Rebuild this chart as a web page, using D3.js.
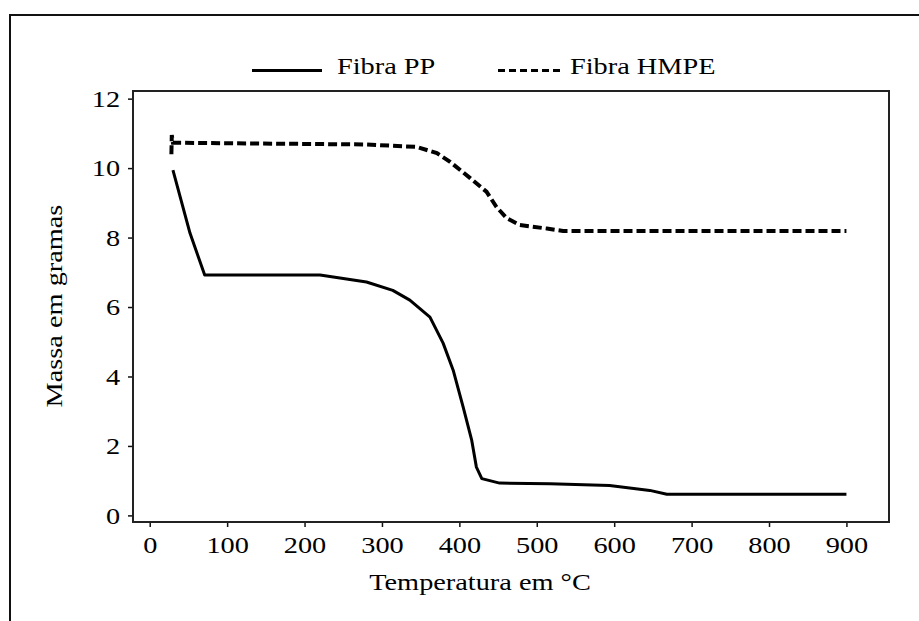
<!DOCTYPE html>
<html>
<head>
<meta charset="utf-8">
<script src="https://cdn.jsdelivr.net/npm/d3@7"></script>
<style>
body { margin: 0; background: #fff; }
</style>
</head>
<body>
<svg id="chart" width="919" height="621"></svg>
<script>
// values
var seriesNames = ["Fibra PP", "Fibra HMPE"];
var ppTemp = [30, 52, 71, 220, 280, 314, 336, 362, 379, 392, 405, 416, 422, 429, 452, 517, 594, 646, 668, 900];
var ppMass = [9.94, 8.13, 6.92, 6.92, 6.72, 6.48, 6.20, 5.71, 4.96, 4.18, 3.11, 2.16, 1.39, 1.06, 0.93, 0.91, 0.86, 0.72, 0.61, 0.61];
var hmpeTemp = [28, 28.5, 30, 280, 345, 371, 388, 414, 435, 448, 461, 478, 513, 534, 900];
var hmpeMass = [10.40, 10.95, 10.73, 10.68, 10.61, 10.43, 10.18, 9.71, 9.32, 8.88, 8.56, 8.36, 8.26, 8.19, 8.19];
var xTicks = [0, 100, 200, 300, 400, 500, 600, 700, 800, 900];
var yTicks = [0, 2, 4, 6, 8, 10, 12];
var xTitle = "Temperatura em °C";
var yTitle = "Massa em gramas";

var fontFamily = "'Liberation Serif', Tinos, 'Times New Roman', 'Nimbus Roman', FreeSerif, 'DejaVu Serif', 'Noto Serif', serif";
var svg = d3.select("#chart");
var box = {left: 133, top: 91, right: 889, bottom: 522};
var stretch = "scale(1.18,1)";

// outer frame of the figure
svg.append("rect")
    .attr("x", 10).attr("y", 15)
    .attr("width", 940).attr("height", 640)
    .attr("fill", "none").attr("stroke", "#111").attr("stroke-width", 2);

var x = d3.scaleLinear().domain([-21.6, 955]).range([box.left, box.right]);
var y = d3.scaleLinear().domain([-0.19, 12.22]).range([box.bottom, box.top]);

var xAxis = svg.append("g")
    .attr("transform", "translate(0," + box.bottom + ")")
    .call(d3.axisBottom(x).tickValues(xTicks).tickSize(5).tickSizeOuter(0).tickPadding(9));
xAxis.select(".domain").remove();
xAxis.selectAll("text")
    .attr("transform", stretch);

var yAxis = svg.append("g")
    .attr("transform", "translate(" + box.left + ",0)")
    .call(d3.axisLeft(y).tickValues(yTicks).tickSize(5).tickSizeOuter(0));
yAxis.select(".domain").remove();
yAxis.selectAll("text")
    .attr("x", -11)
    .attr("transform", stretch);
svg.selectAll(".tick line").attr("stroke", "#111").attr("stroke-width", 1.5);

// plot frame
svg.append("rect")
    .attr("x", box.left).attr("y", box.top)
    .attr("width", box.right - box.left).attr("height", box.bottom - box.top)
    .attr("fill", "none").attr("stroke", "#222").attr("stroke-width", 2);

var line = d3.line()
    .x(function(d) { return x(d[0]); })
    .y(function(d) { return y(d[1]); });

svg.append("path")
    .datum(d3.zip(hmpeTemp, hmpeMass))
    .attr("fill", "none").attr("stroke", "#000")
    .attr("stroke-width", 4).attr("stroke-dasharray", "9,4")
    .attr("d", line);

svg.append("path")
    .datum(d3.zip(ppTemp, ppMass))
    .attr("fill", "none").attr("stroke", "#000")
    .attr("stroke-width", 3).attr("stroke-linejoin", "round")
    .attr("d", line);

// titles
svg.append("text")
    .attr("transform", "translate(480,590) " + stretch)
    .attr("text-anchor", "middle")
    .text(xTitle);
svg.append("text")
    .attr("transform", "translate(62,306) rotate(-90) " + stretch)
    .attr("text-anchor", "middle")
    .text(yTitle);

// legend
var legend = svg.append("g");
var legendItems = [
    {name: seriesNames[0], x0: 252, x1: 322, tx: 337, dash: null},
    {name: seriesNames[1], x0: 498, x1: 563, tx: 570, dash: "7,4"}
];
legendItems.forEach(function(it) {
    legend.append("line")
        .attr("x1", it.x0).attr("x2", it.x1)
        .attr("y1", 70.5).attr("y2", 70.5)
        .attr("stroke", "#000").attr("stroke-width", 3)
        .attr("stroke-dasharray", it.dash);
    legend.append("text")
        .attr("transform", "translate(" + it.tx + ",74) " + stretch)
        .text(it.name);
});

svg.selectAll("text")
    .style("font-family", fontFamily)
    .style("font-size", "24px")
    .style("fill", "#000");
</script>
</body>
</html>
